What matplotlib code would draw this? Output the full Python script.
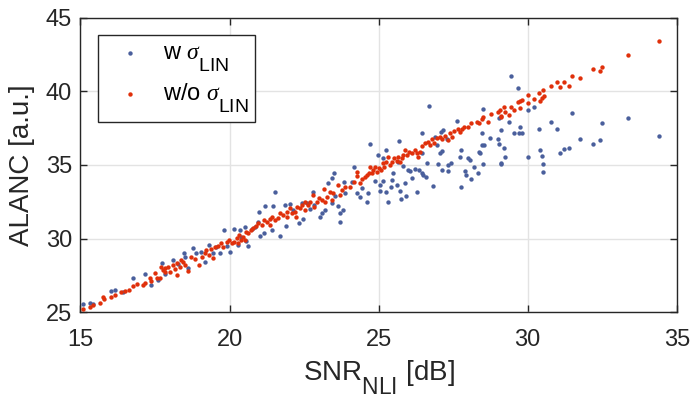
import matplotlib
matplotlib.use("Agg")
import matplotlib.pyplot as plt
import matplotlib._mathtext as _mt

# MATLAB-like TeX subscripts: larger and lower than matplotlib's defaults
_mt.SHRINK_FACTOR = 0.82
_mt.FontConstantsBase.sub1 = 1.15
_mt.FontConstantsBase.sub2 = 1.3

plt.rcParams['mathtext.fontset'] = 'custom'
plt.rcParams['mathtext.rm'] = 'Liberation Sans'
plt.rcParams['mathtext.it'] = 'Liberation Serif:italic'
plt.rcParams['font.family'] = ['Liberation Sans', 'DejaVu Sans']

# ---- data: w sigma_LIN (blue) ----
blue_x = [15.08, 15.31, 15.42, 16.03, 16.17, 16.43, 16.76, 17.15, 17.35, 17.60, 17.75, 17.82,
          18.10, 18.27, 18.47, 18.52, 18.77, 18.89, 19.03, 19.17, 19.31, 19.44, 19.56, 19.67,
          19.80, 18.61,
          21.52, 20.99, 21.19, 21.47, 21.86, 22.03, 22.42, 22.59, 22.81, 23.43, 23.51, 23.31,
          23.85, 24.19, 24.10, 24.26, 23.87, 23.54, 23.65, 23.82, 23.70, 23.43, 23.20, 23.09,
          23.03, 22.84, 22.70, 22.48, 22.33, 22.14, 21.88, 21.69, 21.41, 21.17, 20.94, 20.85,
          21.02, 20.74, 20.52, 20.35, 20.16, 20.38, 20.29, 20.63, 20.02, 19.90, 20.54, 24.43,
          24.38, 23.70,
          26.70, 28.51, 27.62, 27.17, 27.09, 26.89, 26.95, 26.45, 26.47, 25.70, 24.71, 25.24,
          24.99, 25.16, 25.66, 25.83, 25.99, 26.22, 26.36, 26.61, 27.00, 27.32, 27.43, 27.14,
          27.34, 27.77, 27.73, 28.01, 28.08, 28.20, 28.32, 27.90, 27.92, 28.10, 28.35, 28.40,
          28.48, 28.55, 28.46, 28.74, 28.51, 26.45, 26.50, 26.58, 26.11, 25.89, 26.05, 25.49,
          25.44, 25.61, 25.42, 25.05, 25.05, 25.24, 25.72, 25.75, 25.91, 26.28, 26.84, 27.77,
          25.30, 24.66, 24.60, 24.88, 25.16, 27.12, 27.28, 27.06,
          29.45, 29.68, 30.01, 30.22, 31.47, 33.37, 34.41, 32.48, 30.78, 30.97, 30.38, 31.74,
          32.42, 32.18, 31.37, 31.21, 31.09, 30.42, 30.48, 30.52, 30.52, 30.00, 29.75, 29.54,
          29.72, 29.81, 29.37, 29.10, 29.03, 29.01, 29.04, 29.21, 29.23, 29.10, 29.11]
blue_y = [25.54, 25.65, 25.56, 26.47, 26.51, 26.40, 27.30, 27.58, 26.85, 27.19, 28.32, 27.60,
          28.55, 28.28, 29.00, 28.77, 29.34, 29.05, 29.11, 28.43, 29.57, 29.05, 29.45, 29.05,
          30.58, 27.98,
          33.18, 31.83, 32.23, 32.23, 32.28, 32.35, 32.39, 32.44, 33.14, 34.09, 34.43, 33.75,
          33.86, 34.83, 33.86, 33.07, 33.07, 32.89, 32.21, 31.94, 31.15, 32.39, 31.94, 31.71,
          31.44, 32.28, 31.98, 31.31, 31.08, 31.94, 30.85, 30.18, 30.58, 30.40, 31.15, 30.76,
          30.18, 30.63, 30.81, 30.58, 30.63, 30.13, 29.57, 29.50, 29.11, 29.50, 29.86, 33.41,
          32.84, 31.76,
          39.02, 38.77, 38.00, 37.37, 37.25, 36.92, 36.35, 37.14, 35.83, 36.64, 36.39, 36.01,
          35.67, 35.45, 35.22, 34.92, 34.65, 34.70, 34.65, 35.11, 35.06, 34.99, 35.11, 34.65,
          34.59, 36.01, 35.56, 35.45, 35.33, 34.83, 34.47, 34.59, 34.31, 34.02, 35.90, 35.78,
          36.35, 36.35, 37.19, 36.80, 35.06, 34.47, 34.31, 34.16, 34.09, 33.75, 34.61, 34.43,
          33.97, 33.64, 33.52, 33.64, 33.23, 33.18, 33.23, 32.66, 32.89, 33.18, 33.57, 33.52,
          32.46, 33.12, 32.50, 33.93, 33.93, 35.96, 36.73, 35.78,
          41.01, 40.20, 38.70, 38.95, 38.54, 38.18, 36.94, 37.82, 37.89, 37.42, 37.42, 36.74,
          36.71, 36.42, 36.17, 36.08, 35.79, 35.99, 35.62, 35.06, 34.50, 35.52, 37.55, 37.14,
          37.14, 37.14, 37.91, 37.35, 38.18, 36.74, 36.44, 36.17, 35.52, 35.15, 35.04]

# ---- data: w/o sigma_LIN (red) ----
red_x = [15.08, 15.31, 15.42, 15.64, 15.79, 15.75, 16.03, 16.15, 16.37, 16.48, 16.62, 16.76,
         16.91, 17.10, 17.15, 17.32, 17.38, 17.51, 17.58, 17.66, 17.77, 17.82, 17.93, 17.99,
         18.10, 18.16, 18.25, 18.23, 18.33, 18.44, 18.49, 18.61, 18.72, 18.83, 18.99, 19.08,
         19.17, 19.22, 19.30, 19.39, 19.44, 19.52, 19.61, 19.72, 19.78, 18.38, 17.71, 17.85,
         24.43, 24.26, 24.19, 24.04, 23.87, 23.76, 23.65, 23.48, 23.37, 23.26, 23.18, 23.09,
         23.01, 22.92, 22.81, 22.70, 22.62, 22.53, 22.44, 22.36, 22.25, 22.20, 22.08, 22.03,
         21.92, 21.80, 21.69, 21.61, 21.52, 21.43, 21.36, 21.24, 21.17, 21.08, 20.97, 20.88,
         20.80, 20.72, 20.63, 20.54, 20.46, 20.38, 20.32, 20.24, 20.16, 20.07, 19.98, 19.90,
         20.52, 20.29, 24.38, 24.26, 21.36, 21.92, 22.22, 22.53, 22.84, 23.20, 23.43, 23.70,
         28.77, 28.68, 28.51, 28.46, 28.35, 28.29, 28.10, 28.01, 27.88, 27.79, 27.73, 27.65,
         27.54, 27.47, 27.40, 27.34, 27.23, 27.14, 27.06, 26.95, 26.87, 26.78, 26.72, 26.65,
         26.56, 26.47, 26.39, 26.33, 26.28, 26.22, 26.11, 26.02, 25.94, 25.89, 25.83, 25.77,
         25.72, 25.66, 25.61, 25.50, 25.44, 25.38, 25.33, 25.24, 25.19, 25.13, 25.08, 25.01,
         24.94, 24.82, 24.77, 24.68, 24.60, 24.54, 24.71, 24.88,
         34.41, 33.37, 32.18, 32.48, 32.42, 31.48, 31.75, 30.97, 31.21, 30.78, 31.09, 31.37,
         30.52, 30.38, 30.53, 30.48, 30.42, 30.22, 30.01, 30.01, 29.82, 29.75, 29.68, 29.75,
         29.45, 29.55, 29.21, 29.23, 29.07, 29.01, 29.37, 29.11, 29.09]
red_y = [25.20, 25.38, 25.50, 25.65, 25.88, 26.02, 26.02, 26.17, 26.40, 26.47, 26.51, 26.78,
         26.92, 26.85, 27.01, 27.30, 27.15, 27.64, 27.30, 27.30, 27.87, 27.76, 28.05, 27.76,
         28.21, 27.91, 28.32, 27.53, 28.10, 28.43, 28.21, 27.80, 28.73, 28.59, 28.21, 28.77,
         29.05, 29.23, 28.89, 29.27, 28.71, 29.45, 29.50, 29.68, 29.45, 28.55, 28.10, 27.98,
         34.02, 34.25, 33.86, 33.52, 33.52, 33.30, 33.64, 33.07, 33.18, 32.84, 33.34, 32.62,
         32.73, 32.51, 32.96, 32.51, 32.28, 32.51, 32.28, 32.05, 32.17, 31.83, 31.71, 32.05,
         31.83, 31.60, 31.71, 31.38, 31.26, 31.44, 31.31, 31.15, 31.26, 30.92, 31.04, 30.85,
         30.70, 30.58, 30.36, 30.47, 30.13, 29.91, 30.24, 30.02, 29.79, 29.68, 29.91, 29.79,
         29.91, 29.68, 33.75, 34.54, 30.92, 31.49, 31.49, 31.94, 32.17, 32.51, 32.62, 32.96,
         38.45, 37.93, 38.27, 38.09, 37.82, 37.93, 37.82, 37.59, 37.55, 37.41, 37.25, 37.41,
         37.32, 36.92, 37.19, 36.69, 36.96, 36.73, 36.92, 36.80, 36.46, 36.73, 36.35, 36.58,
         36.46, 36.28, 35.90, 35.56, 35.78, 36.01, 35.78, 35.90, 35.67, 36.01, 35.67, 35.45,
         35.22, 35.56, 35.29, 35.45, 35.22, 34.99, 35.56, 35.22, 34.88, 35.11, 34.65, 34.77,
         34.54, 34.65, 34.43, 34.47, 34.31, 34.16, 34.88, 34.83,
         43.41, 42.43, 41.53, 41.62, 41.35, 41.03, 40.90, 40.65, 40.62, 40.35, 40.26, 40.33,
         40.06, 39.88, 39.69, 39.54, 39.31, 39.49, 39.74, 39.22, 39.42, 39.33, 39.27, 38.86,
         38.93, 38.75, 38.93, 38.59, 38.70, 38.61, 38.37, 38.32, 38.23]

xticks = [15, 20, 25, 30, 35]
yticks = [25, 30, 35, 40, 45]

BLUE = '#4A5F9C'
RED = '#E0300B'
AX = '#262626'

fig = plt.figure(figsize=(6.92, 3.98), dpi=100)
ax = fig.add_axes([0.1163, 0.2153, 0.8617, 0.7407])

ax.scatter(blue_x, blue_y, s=10, color=BLUE, linewidths=0, label=r'w $\sigma_{\mathrm{LIN}}$', zorder=3)
ax.scatter(red_x, red_y, s=10, color=RED, linewidths=0, label=r'w/o $\sigma_{\mathrm{LIN}}$', zorder=4)

ax.set_xlim(15, 35)
ax.set_ylim(25, 45)
ax.set_xticks(xticks)
ax.set_yticks(yticks)
ax.grid(True, color='#e3e3e3', linewidth=1.0, zorder=0)
ax.set_axisbelow(True)
for sp in ax.spines.values():
    sp.set_color(AX)
    sp.set_linewidth(1.0)
ax.tick_params(direction='in', length=5, width=1, colors=AX, labelsize=17,
               top=True, right=True)
ax.tick_params(axis='x', pad=12)
ax.tick_params(axis='y', pad=6)
ax.set_xlabel(r'SNR$_{\mathrm{NLI}}$ [dB]', fontsize=20, color=AX, labelpad=5)
ax.set_ylabel('ALANC [a.u.]', fontsize=20, color=AX, labelpad=8)

leg = ax.legend(loc='upper left', bbox_to_anchor=(0.029, 0.94), fontsize=17, frameon=True,
                fancybox=False, edgecolor=AX, framealpha=1, markerscale=1.0,
                handlelength=2.1, handletextpad=0.35, borderpad=0.3, labelspacing=0.3,
                scatterpoints=1, borderaxespad=0)
leg.get_frame().set_linewidth(1.0)

fig.savefig('out.png', dpi=100)
